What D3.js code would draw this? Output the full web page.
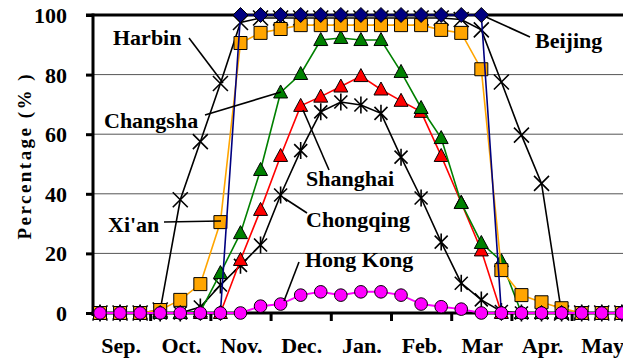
<!DOCTYPE html>
<html>
<head>
<meta charset="utf-8">
<script src="https://cdn.jsdelivr.net/npm/d3@7"></script>
<style>
    body { margin: 0; background: #fff; }
    svg { display: block; }
    text { font-family: "Liberation Serif", "Times New Roman", serif; font-weight: bold; fill: #000; }
</style>
</head>
<body>
<svg id="chart" width="623" height="359"></svg>
<script>

//*************************************************//
// Chart data (one value every ten days, Sep. to May)
//*************************************************//
var months = ["Sep.", "Oct.", "Nov.", "Dec.", "Jan.", "Feb.", "Mar", "Apr.", "May"];
var yTicks = [0, 20, 40, 60, 80, 100];

var beijing   = [0, 0, 0, 0, 0, 0, 0, 100, 100, 100, 100, 100, 100, 100, 100, 100, 100, 100, 100, 100, 0, 0, 0, 0, 0, 0, 0];
var harbin    = [0, 0, 0, 1, 38, 57.5, 77, 97.5, 99, 99, 99, 99, 99, 99, 99, 99, 99, 99, 98.5, 95, 77.5, 59.7, 43.5, 0, 0, 0, 0];
var xian      = [0, 0, 0, 1, 4.4, 9.7, 30.5, 90.6, 94, 95.3, 96.6, 96.6, 96.6, 96.6, 96.6, 96.6, 96.6, 95, 94, 81.8, 14.4, 6, 3.6, 1.6, 0, 0, 0];
var changsha  = [0, 0, 0, 0, 0, 0.5, 13.4, 26.8, 48, 74, 80.2, 91.6, 92.3, 91.6, 91.6, 80.9, 68.8, 58.7, 36.9, 23.5, 17.4, 0, 0, 0, 0, 0, 0];
var shanghai  = [0, 0, 0, 0, 0, 0, 0, 17.8, 34.6, 52.7, 69.5, 72.6, 76, 79.5, 75, 71.2, 67.5, 52.7, 37, 21, 0, 0, 0, 0, 0, 0, 0];
var chongqing = [0, 0, 0, 0, 0, 2, 9.4, 16, 22.8, 39.6, 54.5, 67.5, 70.8, 69.8, 67, 52.3, 38.6, 23.8, 10, 4.4, 0.5, 0, 0, 0, 0, 0, 0];
var hongkong  = [0, 0, 0, 0, 0, 0, 0, 0, 2.3, 3, 6, 7.1, 6, 7.1, 7.1, 6, 3, 2.1, 1.3, 0, 0, 0, 0, 0, 0, 0, 0];


//*************************************************//
// Series styles (drawing order: last on top)
//*************************************************//
var series = [
    { name: "Chongqing", values: chongqing, color: "#000000", marker: "star" },
    { name: "Shanghai",  values: shanghai,  color: "#ff0000", marker: "triangle" },
    { name: "Changsha",  values: changsha,  color: "#008000", marker: "triangle" },
    { name: "Harbin",    values: harbin,    color: "#000000", marker: "cross" },
    { name: "Xi'an",     values: xian,      color: "#ffa500", marker: "square" },
    { name: "Beijing",   values: beijing,   color: "#000080", marker: "diamond" },
    { name: "Hong Kong", values: hongkong,  color: "#ff00ff", marker: "circle" }
];

// Label text position and leader line (text x, baseline y, line from, line to)
var labels = [
    { text: "Harbin",    x: 113, y: 45,  from: [189, 38],  to: [223, 83] },
    { text: "Beijing",   x: 535, y: 48,  from: [530, 37],  to: [486, 17] },
    { text: "Changsha",  x: 104, y: 128, from: [205, 115], to: [281, 92] },
    { text: "Shanghai",  x: 306, y: 186, from: [329, 170], to: [303, 110] },
    { text: "Chongqing", x: 306, y: 227, from: [307, 213], to: [284, 198] },
    { text: "Xi'an",     x: 108, y: 232, from: [164, 222], to: [221, 221] },
    { text: "Hong Kong", x: 305, y: 267, from: [299, 262], to: [284, 301] }
];


//*************************************************//
// Scales
//*************************************************//
var svg = d3.select("#chart");

var plotLeft = 93, plotRight = 623;

var x = d3.scaleLinear().domain([0, 26]).range([100, 621.8]);
var y = d3.scaleLinear().domain([0, 100]).range([313, 15]);


/*****************************/
// Grid lines
/*****************************/
svg.append("g")
    .selectAll("line")
    .data([20, 40, 60, 80])
    .enter().append("line")
    .attr("x1", plotLeft)
    .attr("x2", plotRight)
    .attr("y1", function(d) { return y(d); })
    .attr("y2", function(d) { return y(d); })
    .attr("stroke", "#555")
    .attr("stroke-width", 1);

// Thick top line at 100
svg.append("line")
    .attr("x1", plotLeft - 7)
    .attr("x2", plotRight)
    .attr("y1", y(100))
    .attr("y2", y(100))
    .attr("stroke", "#000")
    .attr("stroke-width", 3);


/*****************************/
// Y axis
/*****************************/
var yAxis = svg.append("g")
    .attr("transform", "translate(" + plotLeft + ",0)")
    .call(d3.axisLeft(y).tickValues(yTicks).tickSize(7).tickSizeOuter(0).tickPadding(19));

yAxis.select(".domain").remove();
yAxis.selectAll(".tick line").attr("stroke", "#000").attr("stroke-width", 3);
yAxis.selectAll(".tick text")
    .attr("font-size", "22px")
    .attr("font-family", null)
    .attr("dy", "0.34em");

svg.append("line")
    .attr("x1", plotLeft)
    .attr("x2", plotLeft)
    .attr("y1", y(100) - 1.5)
    .attr("y2", y(0) + 3)
    .attr("stroke", "#000")
    .attr("stroke-width", 3);

// Y axis title
svg.append("text")
    .attr("transform", "translate(31," + 157 + ") rotate(-90)")
    .attr("text-anchor", "middle")
    .attr("font-size", "19px")
    .attr("textLength", 165)
    .attr("lengthAdjust", "spacing")
    .text("Percentage  (% )");


/*****************************/
// X axis
/*****************************/
var monthEdges = d3.range(1, months.length).map(function(m) { return 3 * m - 0.5; });

var xAxis = svg.append("g")
    .attr("transform", "translate(0," + y(0) + ")")
    .call(d3.axisBottom(x).tickValues(monthEdges).tickSize(8).tickSizeOuter(0).tickFormat(""));

xAxis.select(".domain").remove();
xAxis.selectAll(".tick line").attr("stroke", "#000").attr("stroke-width", 3);

svg.append("line")
    .attr("x1", plotLeft - 1.5)
    .attr("x2", plotRight)
    .attr("y1", y(0))
    .attr("y2", y(0))
    .attr("stroke", "#000")
    .attr("stroke-width", 3);

// Month labels centred on the middle ten days of each month
svg.append("g")
    .selectAll("text")
    .data(months)
    .enter().append("text")
    .attr("x", function(d, i) { return x(3 * i + 1) + 1; })
    .attr("y", 353)
    .attr("text-anchor", "middle")
    .attr("font-size", "22px")
    .text(function(d) { return d; });


/*****************************/
// Marker shapes
/*****************************/
var markerPath = function(type) {
    switch (type) {
        case "diamond":  return "M0,-7.5L7.5,0L0,7.5L-7.5,0Z";
        case "square":   return "M-6.5,-6.5H6.5V6.5H-6.5Z";
        case "triangle": return "M0,-7.5L7,5.5L-7,5.5Z";
        case "cross":    return "M-7.5,-7.5L7.5,7.5M-7.5,7.5L7.5,-7.5";
        case "star":     return "M-6.5,-6.5L6.5,6.5M-6.5,6.5L6.5,-6.5M0,-8.5L0,8.5";
    }
    return "";
};

var line = d3.line()
    .x(function(d, i) { return x(i); })
    .y(function(d) { return y(d); });


/*****************************/
// Series lines and markers
/*****************************/
series.forEach(function(s) {

    var g = svg.append("g").attr("class", "series");

    g.append("path")
        .datum(s.values)
        .attr("d", line)
        .attr("fill", "none")
        .attr("stroke", s.color)
        .attr("stroke-width", s.marker == "circle" ? 2 : 1.6);

    var pts = g.selectAll(".pt")
        .data(s.values)
        .enter();

    if (s.marker == "circle") {
        pts.append("circle")
            .attr("cx", function(d, i) { return x(i); })
            .attr("cy", function(d) { return y(d); })
            .attr("r", 6.3)
            .attr("fill", s.color)
            .attr("stroke", "#000")
            .attr("stroke-width", 1);
    }
    else {
        var open = (s.marker == "cross" || s.marker == "star");
        pts.append("path")
            .attr("d", markerPath(s.marker))
            .attr("transform", function(d, i) { return "translate(" + x(i) + "," + y(d) + ")"; })
            .attr("fill", open ? "none" : s.color)
            .attr("stroke", "#000")
            .attr("stroke-width", open ? 1.6 : 1);
    }
});


/*****************************/
// City labels with leader lines
/*****************************/
var lab = svg.append("g").selectAll("g")
    .data(labels)
    .enter().append("g");

lab.append("line")
    .attr("x1", function(d) { return d.from[0]; })
    .attr("y1", function(d) { return d.from[1]; })
    .attr("x2", function(d) { return d.to[0]; })
    .attr("y2", function(d) { return d.to[1]; })
    .attr("stroke", "#000")
    .attr("stroke-width", 1.6);

lab.append("text")
    .attr("x", function(d) { return d.x; })
    .attr("y", function(d) { return d.y; })
    .attr("font-size", "22px")
    .text(function(d) { return d.text; });

</script>
</body>
</html>
